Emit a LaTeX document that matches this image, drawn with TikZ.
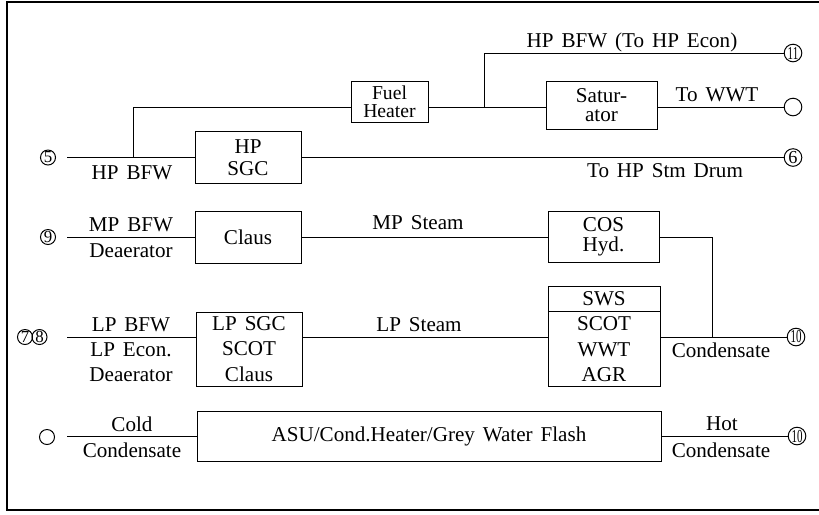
\documentclass[tikz,border=0pt]{standalone}
\usepackage{fontspec}
\setmainfont{Liberation Serif}[WordSpace=1.5]
\usetikzlibrary{positioning}

\begin{document}
\begin{tikzpicture}[
    x=0.025cm, y=-0.025cm,
    unit/.style={rectangle, draw, line width=0.6pt, align=center, inner sep=0pt, font=\fontsize{15}{18}\selectfont},
    lbl/.style={inner sep=0pt, font=\fontsize{15}{18}\selectfont},
    num/.style={circle, draw, line width=0.7pt, inner sep=0pt, minimum size=0.375cm, font=\fontsize{12}{12}\selectfont},
    bignum/.style={num, minimum size=0.44cm, font=\fontsize{13}{13}\selectfont},
    line/.style={line width=0.6pt},
    frame/.style={line width=1.2pt}
]
\useasboundingbox (0,0) rectangle (819,514);

% Cadre
\draw[frame] (819,2) -- (7,2) -- (7,510) -- (819,510);

% Unites
\node[unit, minimum width=1.925cm, minimum height=1.025cm, font=\fontsize{14}{12.5}\selectfont] (fuel) at (389.5,101.5) {Fuel\\Heater};
\node[unit, minimum width=2.775cm, minimum height=1.2cm, font=\fontsize{15}{13.5}\selectfont] (sat) at (601.5,105) {Satur-\\ator};
\node[unit, minimum width=2.65cm, minimum height=1.3cm, font=\fontsize{15}{16}\selectfont] (hpsgc) at (248,157.5) {HP\\SGC};
\node[unit, minimum width=2.65cm, minimum height=1.3cm] (claus) at (248,237) {Claus};
\node[unit, minimum width=2.775cm, minimum height=1.275cm, font=\fontsize{15}{14}\selectfont] (cos) at (603.5,237) {COS\\Hyd.};
\node[unit, minimum width=2.65cm, minimum height=1.85cm] (lpsgc) at (249,349) {LP SGC\\SCOT\\Claus};
\node[unit, minimum width=2.8cm, minimum height=0.625cm] (sws) at (604,298.5) {SWS};
\node[unit, minimum width=2.8cm, minimum height=1.875cm, below=0pt of sws] (scot) {SCOT\\WWT\\AGR};
\node[unit, minimum width=11.6cm, minimum height=1.25cm] (asu) at (429,436) {ASU/Cond.Heater/Grey Water Flash};

% Numeros
\node[num] (c5) at (48,157.5) {5};
\node[num] (c9) at (48,237) {9};
\node[num] (c7) at (25,337) {7};
\node[num] (c8) at (39.5,337) {8};
\node[num] (o2) at (47,437) {};
\node[bignum] (c11) at (793,53) {\scalebox{0.6}[1]{11}};
\node[bignum] (o1) at (793,107) {};
\node[bignum] (c6) at (793,157.5) {6};
\node[bignum] (c10) at (796,337) {\scalebox{0.6}[1]{10}};
\node[bignum] (c10b) at (797,436) {\scalebox{0.6}[1]{10}};

% Points de depart et jonctions
\coordinate (s5) at (67,157.5);
\coordinate (s9) at (67,237);
\coordinate (s78) at (67,337);
\coordinate (s0) at (67,436);
\coordinate (j1) at (133,157.5);
\coordinate (jf) at (133,107);
\coordinate (j3) at (484,107);
\coordinate (jc) at (712,337);

% Liaisons HP
\draw[line] (s5) -- (hpsgc.west);
\draw[line] (hpsgc.east) -- (c6.west);
\draw[line] (j1) -- (jf) -- (fuel.west |- jf);
\draw[line] (fuel.east |- jf) -- (sat.west |- jf);
\draw[line] (j3) |- (c11.west);
\draw[line] (sat.east |- jf) -- (o1.west);

% Liaisons MP
\draw[line] (s9) -- (claus.west);
\draw[line] (claus.east) -- (cos.west);
\draw[line] (cos.east) -| (jc);

% Liaisons LP
\draw[line] (s78) -- (lpsgc.west |- s78);
\draw[line] (lpsgc.east |- s78) -- (scot.west |- s78);
\draw[line] (scot.east |- s78) -- (c10.west);

% Condensat
\draw[line] (s0) -- (asu.west);
\draw[line] (asu.east) -- (c10b.west);

% Etiquettes
\node[lbl] at (132,173) {HP BFW};
\node[lbl] at (131,225) {MP BFW};
\node[lbl] at (131,251) {Deaerator};
\node[lbl] at (131,325) {LP BFW};
\node[lbl] at (131,350) {LP Econ.};
\node[lbl] at (131,375) {Deaerator};
\node[lbl] at (132,424) {Cold};
\node[lbl] at (132,450) {Condensate};
\node[lbl] at (632,42) {HP BFW (To HP Econ)};
\node[lbl] at (717,95) {To WWT};
\node[lbl] at (665,171) {To HP Stm Drum};
\node[lbl] at (418,223) {MP Steam};
\node[lbl] at (419,325) {LP Steam};
\node[lbl] at (721,350) {Condensate};
\node[lbl] at (722,424) {Hot};
\node[lbl] at (721,450) {Condensate};

\end{tikzpicture}
\end{document}
